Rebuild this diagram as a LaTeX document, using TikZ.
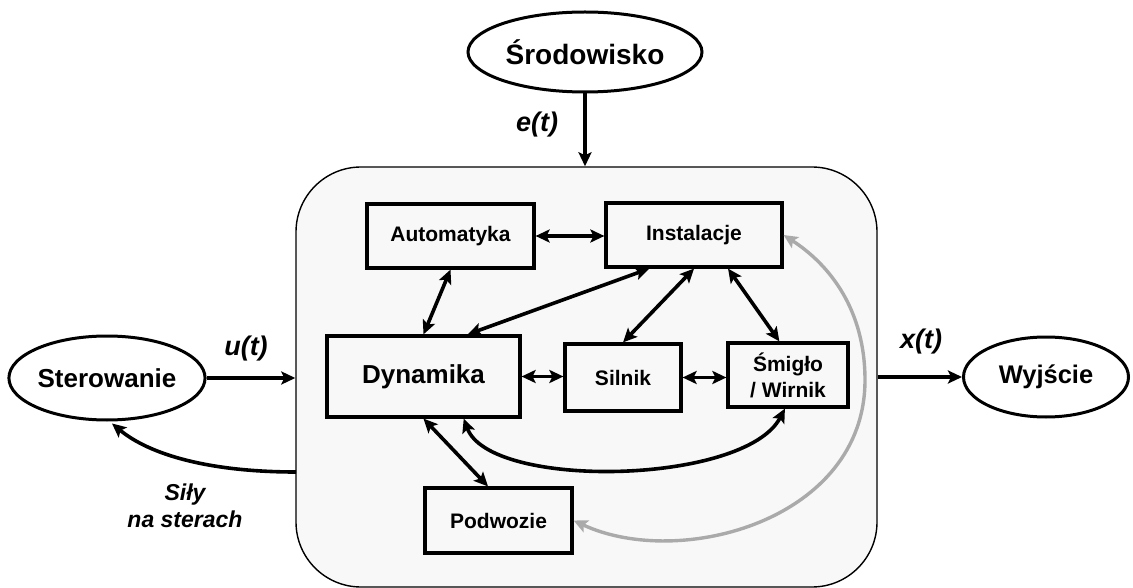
\documentclass[tikz,border=0pt]{standalone}
\usepackage{fontspec}
\setmainfont{Liberation Sans}
\usetikzlibrary{arrows.meta,shapes.geometric,calc}
\definecolor{sysfill}{RGB}{248,248,248}
\definecolor{arrgray}{RGB}{170,170,170}
\begin{document}
\begin{tikzpicture}[x=1pt,y=-1pt,
  >={Stealth[length=14pt,width=13pt,inset=3pt]},
  box/.style={draw, line width=3.2pt, inner sep=0pt, align=center,
    font=\fontsize{21}{26}\selectfont\bfseries},
  ell/.style={draw, ellipse, line width=3pt, inner sep=0pt, fill=white},
  arr/.style={line width=3.6pt, <->},
  sig/.style={line width=3.6pt, ->},
  lab/.style={font=\fontsize{27}{30}\selectfont\bfseries\itshape},
  grayarr/.style={line width=3.4pt, draw=arrgray, <->},
]
\useasboundingbox (0,0) rectangle (1133,588);

% system box
\node[draw, line width=1.4pt, rounded corners=65pt, fill=sysfill,
  minimum width=581pt, minimum height=420pt, inner sep=0pt] (sys) at (586.5,377) {};

% ellipses
\node[ell, minimum width=234pt, minimum height=80pt,
  font=\fontsize{28}{30}\selectfont\bfseries] (Srod) at (585,52) {Środowisko};
\node[ell, minimum width=191pt, minimum height=84pt,
  font=\fontsize{26}{30}\selectfont\bfseries] (Ster) at (107,378) {Sterowanie};
\node[ell, minimum width=165pt, minimum height=80pt,
  font=\fontsize{25.5}{30}\selectfont\bfseries] (Wyj) at (1046,377) {Wyjście};

% inner boxes
\node[box, minimum width=167pt, minimum height=64pt] (Auto) at (450.5,236) {Automatyka};
\node[box, minimum width=176pt, minimum height=64pt] (Inst) at (694,235) {Instalacje};
\node[box, minimum width=193pt, minimum height=81pt,
  font=\fontsize{26}{30}\selectfont\bfseries] (Dyn) at (423.5,376.5) {Dynamika};
\node[box, minimum width=116pt, minimum height=67pt] (Sil) at (623,377.5) {Silnik};
\node[box, minimum width=120pt, minimum height=64pt] (Smig) at (788,375) {Śmigło\\/ Wirnik};
\node[box, minimum width=147pt, minimum height=65pt] (Pod) at (498.5,520.5) {Podwozie};

% inner connectors
\draw[arr] (Auto.east) -- (Auto.east -| Inst.west);
\draw[arr] (Auto.south) -- (Dyn.north);
\draw[arr] ($(Inst.south west)!0.25!(Inst.south east)$) -- ($(Dyn.north west)!0.725!(Dyn.north east)$);
\draw[arr] (Inst.south) -- (Sil.north);
\draw[arr] ($(Inst.south west)!0.69!(Inst.south east)$) -- ($(Smig.north west)!0.43!(Smig.north east)$);
\draw[arr] (Dyn.east) -- (Dyn.east -| Sil.west);
\draw[arr] (Sil.east) -- (Sil.east -| Smig.west);
\draw[arr] (Dyn.south) -- ($(Pod.north west)!0.43!(Pod.north east)$);
\draw[arr] ($(Dyn.south west)!0.705!(Dyn.south east)$) .. controls (490,490) and (745,485) .. ($(Smig.south west)!0.475!(Smig.south east)$);

\coordinate (gR) at (865,380);
\draw[grayarr] (Pod.east) .. controls (680,570) and (865,520) .. (gR) .. controls (865,310) and (830,265) .. (Inst.east);

% outer signals
\draw[sig] (Srod.south) -- (Srod.south |- sys.north);
\draw[sig] (Ster.east) -- (Ster.east -| sys.west);
\draw[sig] (sys.east |- Wyj.west) -- (Wyj.west);
\coordinate (sStart) at (296,472);
\draw[sig] (sStart) .. controls (210,472) and (150,455) .. ([xshift=5pt,yshift=-2pt]Ster.south);

% labels
\node[lab] (et) at (537,125) {e(t)};
\node[lab] (ut) at (246,349) {u(t)};
\node[lab] (xt) at (921,342) {x(t)};
\node[font=\fontsize{23}{27}\selectfont\bfseries\itshape, align=center] (sily) at (185,506) {Siły\\na sterach};
\end{tikzpicture}
\end{document}
